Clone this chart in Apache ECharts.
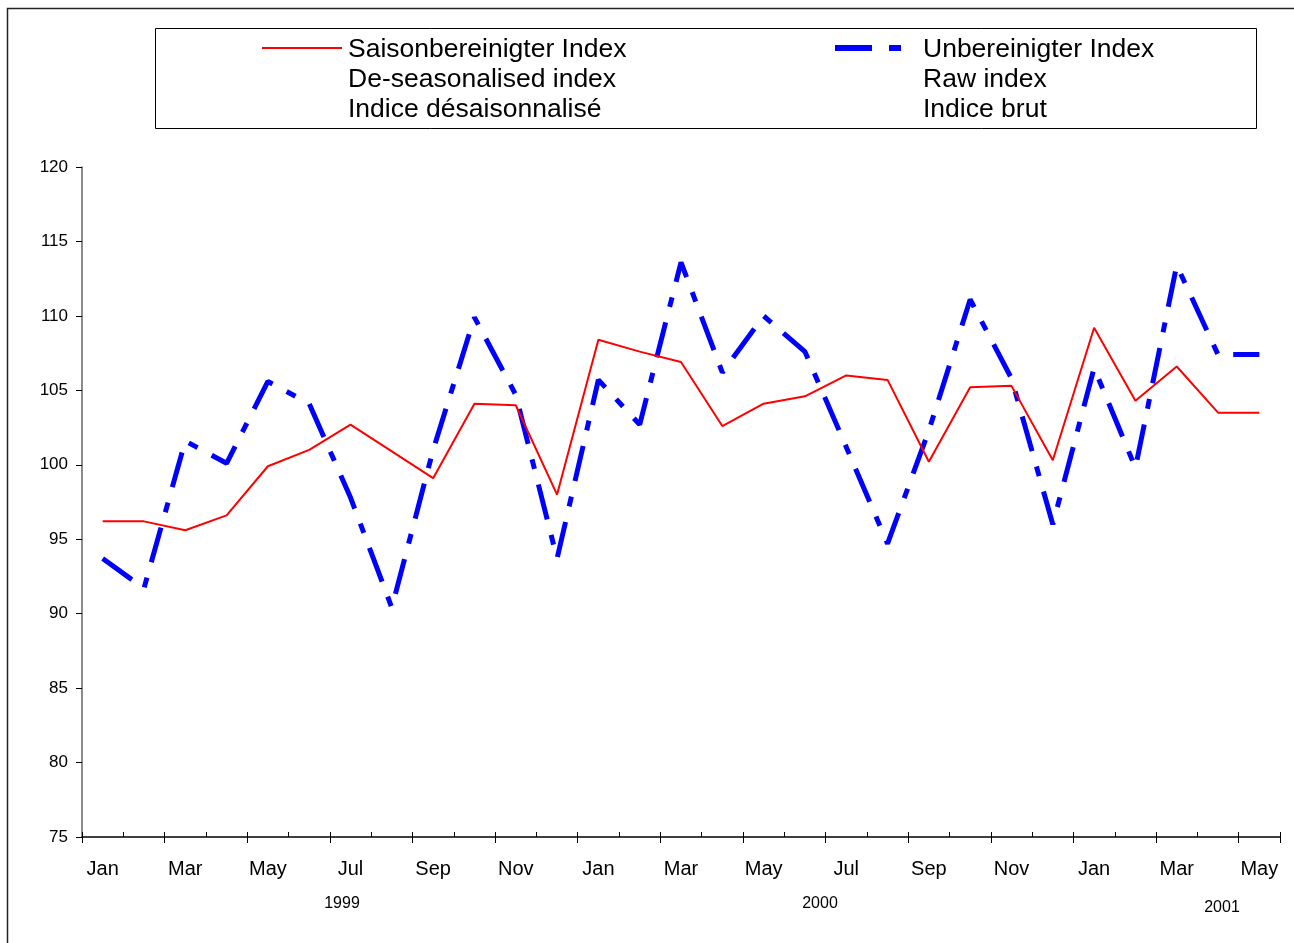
<!DOCTYPE html>
<html>
<head>
<meta charset="utf-8">
<script src="https://cdn.jsdelivr.net/npm/echarts@6/dist/echarts.min.js"></script>
<style>
html,body{margin:0;padding:0;background:#fff;}
#chart{width:1294px;height:943px;}
</style>
</head>
<body>
<div id="chart"></div>
<script>
// ---- Data ----
var months = ['Jan','Feb','Mar','Apr','May','Jun','Jul','Aug','Sep','Oct','Nov','Dec',
              'Jan','Feb','Mar','Apr','May','Jun','Jul','Aug','Sep','Oct','Nov','Dec',
              'Jan','Feb','Mar','Apr','May'];
var years = ['1999', '2000', '2001'];
var deseasonalised = [96.2, 96.2, 95.6, 96.6, 99.9, 101.0, 102.7, 100.9, 99.1, 104.1, 104.0, 98.0,
                      108.4, 107.6, 106.9, 102.6, 104.1, 104.6, 106.0, 105.7, 100.2, 105.2, 105.3, 100.3,
                      109.2, 104.3, 106.6, 103.5, 103.5];
var rawIndex = [93.7, 91.7, 101.6, 100.1, 105.6, 104.1, 97.8, 90.4, 101.0, 109.9, 104.7, 93.7,
                105.7, 102.7, 113.6, 106.2, 110.0, 107.6, 101.2, 94.7, 102.3, 111.1, 105.8, 96.0,
                106.5, 99.8, 113.4, 107.4, 107.4];
var legendRed = ['Saisonbereinigter Index', 'De-seasonalised index', 'Indice désaisonnalisé'];
var legendBlue = ['Unbereinigter Index', 'Raw index', 'Indice brut'];

var FONT = '"Liberation Sans", Arial, sans-serif';
var chart = echarts.init(document.getElementById('chart'), null, {renderer: 'canvas'});

var graphics = [
  {type: 'rect', shape: {x: 7.5, y: 8.5, width: 1300, height: 1000}, style: {fill: 'none', stroke: '#222', lineWidth: 1.5}, silent: true},
  {type: 'rect', shape: {x: 155.5, y: 28.5, width: 1101, height: 100}, style: {fill: '#fff', stroke: '#000', lineWidth: 1}, silent: true},
  {type: 'line', shape: {x1: 262, y1: 48, x2: 342, y2: 48}, style: {stroke: '#ff0000', lineWidth: 2}},
  {type: 'line', shape: {x1: 835, y1: 48, x2: 872, y2: 48}, style: {stroke: '#0000ff', lineWidth: 6}},
  {type: 'line', shape: {x1: 889, y1: 48, x2: 901, y2: 48}, style: {stroke: '#0000ff', lineWidth: 6}}
];
legendRed.forEach(function (t, i) {
  graphics.push({type: 'text', x: 348, y: 50 + i * 30, style: {text: t, font: '26.5px ' + FONT, fill: '#000', textVerticalAlign: 'middle', verticalAlign: 'middle'}});
});
legendBlue.forEach(function (t, i) {
  graphics.push({type: 'text', x: 923, y: 50 + i * 30, style: {text: t, font: '26.5px ' + FONT, fill: '#000', textVerticalAlign: 'middle', verticalAlign: 'middle'}});
});
var yearPos = [[342, 904], [820, 904], [1222, 908]];
years.forEach(function (t, i) {
  graphics.push({type: 'text', x: yearPos[i][0], y: yearPos[i][1], style: {text: t, font: '16px ' + FONT, fill: '#000', align: 'center', verticalAlign: 'middle', textAlign: 'center', textVerticalAlign: 'middle'}});
});

var option = {
  backgroundColor: '#fff',
  animation: false,
  grid: {left: 82, right: 14, top: 167, bottom: 106, containLabel: false},
  xAxis: [
    {
      type: 'category', data: months, boundaryGap: true, position: 'bottom',
      axisLine: {show: true, lineStyle: {color: '#000', width: 1.5}},
      axisTick: {show: true, interval: 0, inside: true, length: 5, lineStyle: {color: '#000'}},
      axisLabel: {show: true, interval: 1, margin: 22, fontSize: 20, fontFamily: FONT, color: '#000'},
      splitLine: {show: false}
    },
    {
      type: 'category', data: months, boundaryGap: true, position: 'bottom',
      axisLine: {show: false},
      axisTick: {show: true, interval: 1, inside: false, length: 6, lineStyle: {color: '#000'}},
      axisLabel: {show: false},
      splitLine: {show: false}
    }
  ],
  yAxis: {
    type: 'value', min: 75, max: 120, interval: 5,
    axisLine: {show: true, lineStyle: {color: '#666', width: 1.5}},
    axisTick: {show: true, inside: false, length: 6, lineStyle: {color: '#000'}},
    axisLabel: {margin: 14, fontSize: 17, fontFamily: FONT, color: '#000'},
    splitLine: {show: false}
  },
  series: [
    {
      name: 'Saisonbereinigter Index', type: 'line', data: deseasonalised, xAxisIndex: 0,
      symbol: 'none', smooth: false, z: 3,
      lineStyle: {color: '#ff0000', width: 2}
    },
    {
      name: 'Unbereinigter Index', type: 'line', data: rawIndex, xAxisIndex: 0,
      symbol: 'none', smooth: false, z: 2,
      lineStyle: {color: '#0000ff', width: 5, type: [36, 16, 10, 16], cap: 'butt'}
    }
  ],
  graphic: graphics
};
chart.setOption(option);
</script>
</body>
</html>
